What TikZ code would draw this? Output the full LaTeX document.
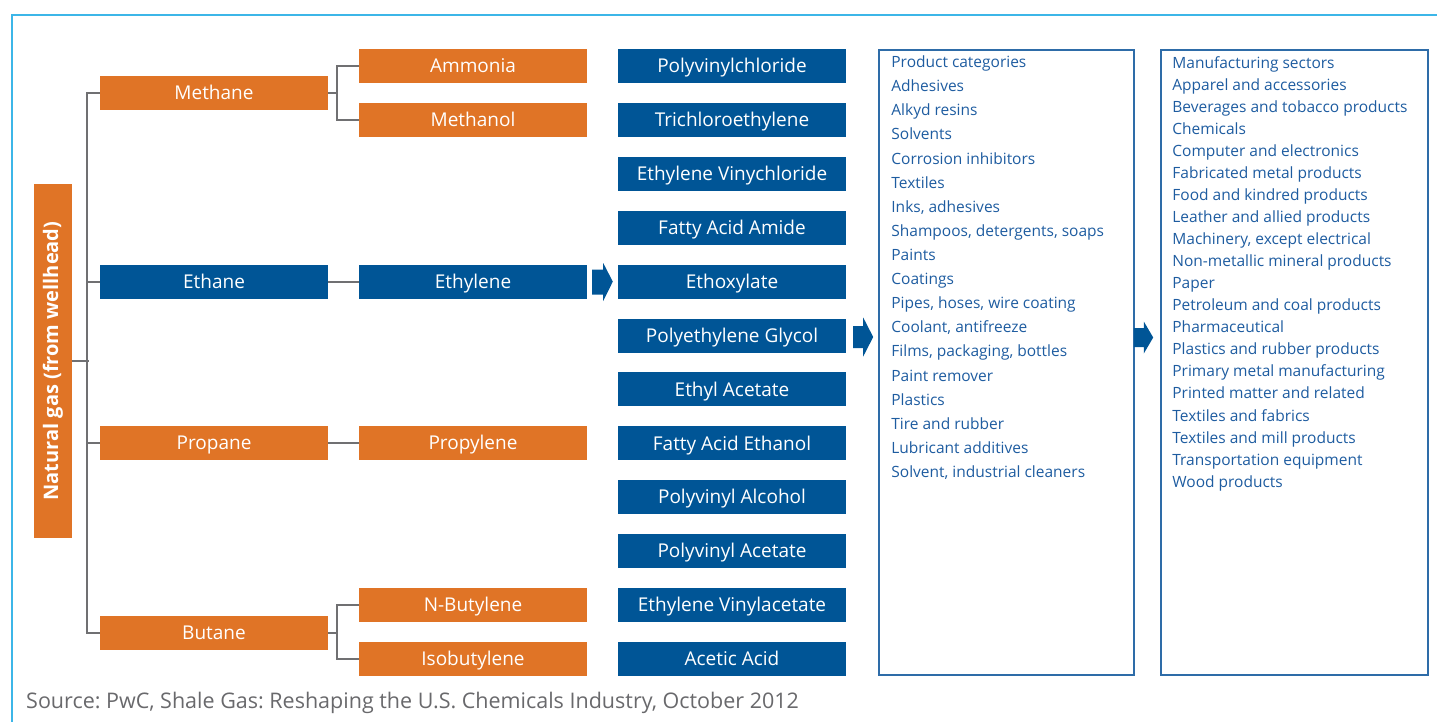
\documentclass[tikz,border=0pt]{standalone}
\usepackage{fontspec}
\setmainfont{Open Sans}
\usetikzlibrary{calc}

\definecolor{gasorange}{RGB}{224,116,38}
\definecolor{chemblue}{RGB}{0,85,150}
\definecolor{linkgray}{RGB}{112,112,114}
\definecolor{listblue}{RGB}{30,92,160}
\definecolor{boxblue}{RGB}{46,108,168}
\definecolor{framecyan}{RGB}{60,182,232}
\definecolor{notegray}{RGB}{105,105,108}

\tikzset{
  chem/.style={minimum width=228pt, minimum height=34pt, inner sep=0pt,
    text height=14.4pt, text depth=1pt,
    text=white, font=\fontsize{19}{22}\selectfont},
  gasbox/.style={chem, fill=gasorange},
  polybox/.style={chem, fill=chemblue},
  link/.style={draw=linkgray, line width=2pt},
  listbox/.style={draw=boxblue, line width=1.6pt, minimum height=625pt, inner sep=0pt},
  listline/.style={anchor=base west, inner sep=0pt, text=listblue,
    font=\fontsize{15.5}{18}\selectfont},
  flow/.style={fill=chemblue}
}

\begin{document}
\frenchspacing
\begin{tikzpicture}[x=1pt, y=-1pt]
\useasboundingbox (0,0) rectangle (1437,722);
\clip (0,0) rectangle (1437,722);

% outer frame
\draw[framecyan, line width=2pt] (11.5,15) rectangle (1460,760);

% feedstock
\node[fill=gasorange, minimum width=38pt, minimum height=354pt, inner sep=0pt] (ng) at (53,361) {};
\node[rotate=90, text=white, font=\bfseries\fontsize{20}{24}\selectfont] (ngtext) at (ng.center) {Natural gas (from wellhead)};

% first stage
\node[gasbox]  (methane) at (214,93)  {Methane};
\node[polybox] (ethane)  at (214,282) {Ethane};
\node[gasbox]  (propane) at (214,443) {Propane};
\node[gasbox]  (butane)  at (214,633) {Butane};

% second stage
\node[gasbox]  (ammonia)     at (473,66)  {Ammonia};
\node[gasbox]  (methanol)    at (473,120) {Methanol};
\node[polybox] (ethylene)    at (473,282) {Ethylene};
\node[gasbox]  (propylene)   at (473,443) {Propylene};
\node[gasbox]  (nbutylene)   at (473,605) {N-Butylene};
\node[gasbox]  (isobutylene) at (473,659) {Isobutylene};

% derivatives
\foreach \name/\label [count=\i from 0] in {
  pvc/Polyvinylchloride,
  tce/Trichloroethylene,
  evc/Ethylene Vinychloride,
  faa/Fatty Acid Amide,
  ethoxylate/Ethoxylate,
  peg/Polyethylene Glycol,
  ea/Ethyl Acetate,
  fae/Fatty Acid Ethanol,
  pva/Polyvinyl Alcohol,
  pvac/Polyvinyl Acetate,
  eva/Ethylene Vinylacetate,
  aa/Acetic Acid}
  \node[polybox] (\name) at (732,{66+53.9*\i}) {\label};

% connectors
\coordinate (trunk) at ($(methane.west)+(-13,0)$);
\draw[link] (methane.west) -- (trunk) |- (butane.west);
\draw[link] (ethane.west) -- (trunk |- ethane.west);
\draw[link] (propane.west) -- (trunk |- propane.west);
\draw[link] (ng.east) -- ($(trunk |- ng.east)+(2,0)$);

\draw[link] (methane.east) -- ++(9,0) coordinate (mfork);
\draw[link] (ammonia.west) -| (mfork) |- (methanol.west);
\draw[link] (ethane.east) -- (ethylene.west);
\draw[link] (propane.east) -- (propylene.west);
\draw[link] (butane.east) -- ++(9,0) coordinate (bfork);
\draw[link] (nbutylene.west) -| (bfork) |- (isobutylene.west);

% product categories and sectors
\node[listbox, minimum width=255pt] (cats) at (1006.5,362.5) {};
\node[listbox, minimum width=267pt] (sectors) at (1294.5,362.5) {};

\foreach \t [count=\i from 0] in {
  Product categories, Adhesives, Alkyd resins, Solvents,
  Corrosion inhibitors, Textiles, {Inks, adhesives},
  {Shampoos, detergents, soaps}, Paints, Coatings,
  {Pipes, hoses, wire coating}, {Coolant, antifreeze},
  {Films, packaging, bottles}, Paint remover, Plastics,
  Tire and rubber, Lubricant additives, {Solvent, industrial cleaners}}
  \node[listline] (cat\i) at ($(cats.north west)+(13,{18.5+24.1*\i})$) {\t};

\foreach \t [count=\i from 0] in {
  Manufacturing sectors, Apparel and accessories,
  Beverages and tobacco products, Chemicals,
  Computer and electronics, Fabricated metal products,
  Food and kindred products, Leather and allied products,
  {Machinery, except electrical}, Non-metallic mineral products,
  Paper, Petroleum and coal products, Pharmaceutical,
  Plastics and rubber products, Primary metal manufacturing,
  Printed matter and related, Textiles and fabrics,
  Textiles and mill products, Transportation equipment, Wood products}
  \node[listline] (sec\i) at ($(sectors.north west)+(12,{19+22.05*\i})$) {\t};

% block arrows
\fill[flow] ($(ethylene.east)+(5,-12.5)$) -- ($(ethylene.east)+(16,-12.5)$)
  -- ($(ethylene.east)+(16,-19)$) -- ($(ethoxylate.west)+(-5,0)$)
  -- ($(ethylene.east)+(16,19)$) -- ($(ethylene.east)+(16,12.5)$)
  -- ($(ethylene.east)+(5,12.5)$) -- cycle;
\coordinate (a2) at ($(peg.east)+(0,1.5)$);
\fill[flow] ($(a2)+(7,-11)$) -- ($(a2)+(17,-11)$)
  -- ($(a2)+(17,-19.5)$) -- ($(cats.west |- a2)+(-5,0)$)
  -- ($(a2)+(17,19.5)$) -- ($(a2)+(17,11)$)
  -- ($(a2)+(7,11)$) -- cycle;
\coordinate (a3) at ($(cats.east |- peg.east)+(0,2)$);
\fill[flow] ($(a3)+(-1,-9.5)$) -- ($(a3)+(9,-9.5)$)
  -- ($(a3)+(9,-16)$) -- ($(sectors.west |- a3)+(-7,0)$)
  -- ($(a3)+(9,16)$) -- ($(a3)+(9,9.5)$)
  -- ($(a3)+(-1,9.5)$) -- cycle;

% source line
\node[anchor=base west, inner sep=0pt, text=notegray, font=\fontsize{21.5}{24}\selectfont]
  (source) at (26,708) {Source: PwC, Shale Gas: Reshaping the U.S. Chemicals Industry, October 2012};
\end{tikzpicture}
\end{document}
